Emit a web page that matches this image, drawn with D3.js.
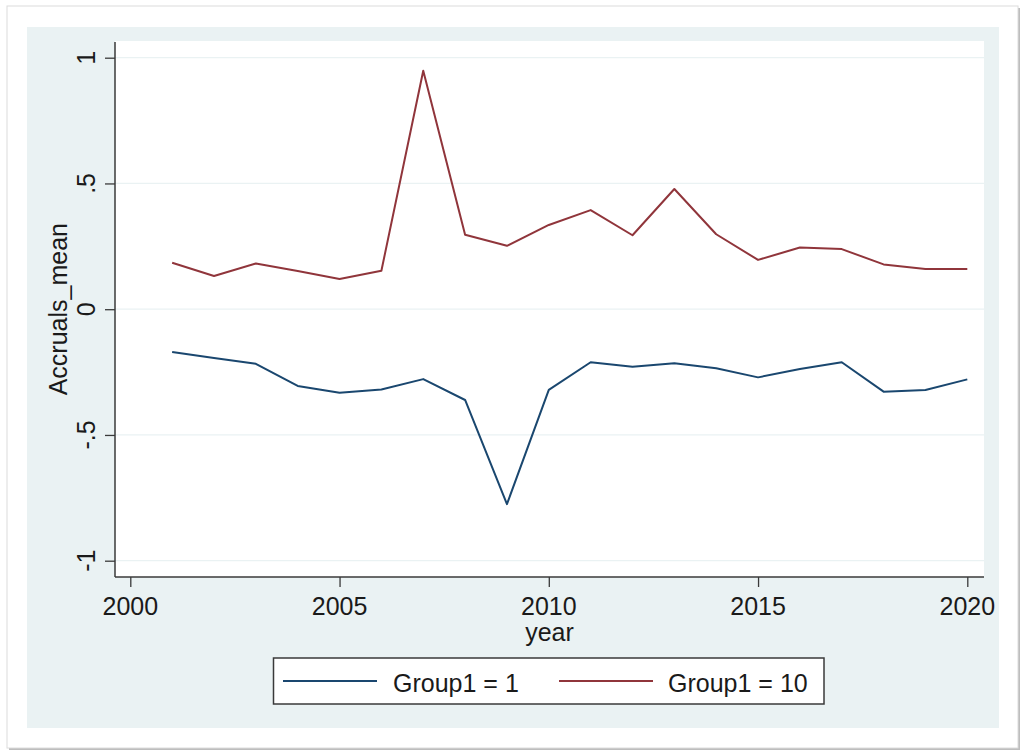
<!DOCTYPE html>
<html>
<head>
<meta charset="utf-8">
<script src="https://cdn.jsdelivr.net/npm/d3@7"></script>
<style>
  html, body { margin: 0; padding: 0; background: #ffffff; }
  svg { display: block; font-family: "Liberation Sans", Arial, sans-serif; }
</style>
</head>
<body>
<svg id="chart" width="1026" height="756"></svg>
<script>
const years = [2001,2002,2003,2004,2005,2006,2007,2008,2009,2010,2011,2012,2013,2014,2015,2016,2017,2018,2019,2020];
const group1 = [-0.170,-0.194,-0.217,-0.305,-0.332,-0.319,-0.278,-0.361,-0.775,-0.321,-0.211,-0.229,-0.215,-0.235,-0.271,-0.238,-0.211,-0.328,-0.321,-0.279];
const group10 = [0.185,0.132,0.182,0.152,0.120,0.153,0.948,0.296,0.252,0.335,0.394,0.294,0.478,0.298,0.196,0.245,0.239,0.178,0.160,0.160];
const xTicks = [2000,2005,2010,2015,2020];
const yTicks = [-1,-0.5,0,0.5,1];
const yTickLabels = ["-1","-.5","0",".5","1"];
const seriesNames = ["Group1 = 1","Group1 = 10"];
const seriesColors = ["#1a476f","#90353b"];
const xTitle = "year";
const yTitle = "Accruals_mean";

(function () {
const svg = d3.select("#chart");

// card with shadow
svg.append("rect").attr("x", 9).attr("y", 8).attr("width", 1011).attr("height", 742)
  .attr("fill", "#bdbdbd");
svg.append("rect").attr("x", 7).attr("y", 6).attr("width", 1011).attr("height", 742)
  .attr("fill", "#ffffff").attr("stroke", "#dcdcdc").attr("stroke-width", 1);

// Stata panel
svg.append("rect").attr("x", 27).attr("y", 27).attr("width", 972).attr("height", 701)
  .attr("fill", "#eaf2f3");

// plot region
const pL = 115, pR = 984, pT = 41, pB = 577;
svg.append("rect").attr("x", pL).attr("y", pT).attr("width", pR - pL).attr("height", pB - pT)
  .attr("fill", "#ffffff");

const x = d3.scaleLinear().domain([2000, 2020]).range([130.3, 967.3]);
const y = d3.scaleLinear().domain([-1, 1]).range([560.7, 57.7]);

// gridlines
svg.append("g").selectAll("line").data(yTicks).join("line")
  .attr("x1", pL).attr("x2", pR)
  .attr("y1", d => y(d)).attr("y2", d => y(d))
  .attr("stroke", "#eaf2f3").attr("stroke-width", 1.2);

// y axis
const yAxis = svg.append("g").attr("transform", `translate(${pL},0)`)
  .call(d3.axisLeft(y).tickValues(yTicks).tickSize(10).tickFormat(""));
yAxis.select(".domain").remove();
yAxis.selectAll(".tick line").attr("stroke", "#3a3a3a").attr("stroke-width", 1.3);
svg.append("line").attr("x1", pL).attr("x2", pL).attr("y1", 42).attr("y2", pB)
  .attr("stroke", "#3a3a3a").attr("stroke-width", 1.5);

svg.append("g").selectAll("text").data(yTicks).join("text")
  .attr("transform", d => `translate(95,${y(d)}) rotate(-90)`)
  .attr("text-anchor", "middle")
  .attr("font-size", 25).attr("fill", "#1a1a1a")
  .text((d, i) => yTickLabels[i]);

// x axis
const xAxis = svg.append("g").attr("transform", `translate(0,${pB})`)
  .call(d3.axisBottom(x).tickValues(xTicks).tickSize(10).tickFormat(""));
xAxis.select(".domain").remove();
xAxis.selectAll(".tick line").attr("stroke", "#3a3a3a").attr("stroke-width", 1.3);
svg.append("line").attr("x1", pL).attr("x2", pR).attr("y1", pB).attr("y2", pB)
  .attr("stroke", "#3a3a3a").attr("stroke-width", 1.5);

svg.append("g").selectAll("text").data(xTicks).join("text")
  .attr("x", d => x(d)).attr("y", 615)
  .attr("text-anchor", "middle")
  .attr("font-size", 25).attr("fill", "#1a1a1a")
  .text(d => d);

// titles
svg.append("text").attr("x", (pL + pR) / 2).attr("y", 641)
  .attr("text-anchor", "middle").attr("font-size", 25).attr("fill", "#1a1a1a").text(xTitle);
svg.append("text").attr("transform", `translate(67,${y(0)}) rotate(-90)`)
  .attr("text-anchor", "middle").attr("font-size", 25).attr("fill", "#1a1a1a").text(yTitle);

// lines
const line = d3.line().x(d => x(d[0])).y(d => y(d[1]));
[group1, group10].forEach((vals, i) => {
  svg.append("path")
    .datum(years.map((yr, j) => [yr, vals[j]]))
    .attr("d", line)
    .attr("fill", "none")
    .attr("stroke", seriesColors[i])
    .attr("stroke-width", 2)
    .attr("stroke-linejoin", "round");
});

// legend
svg.append("rect").attr("x", 273.5).attr("y", 658).attr("width", 550.5).attr("height", 46)
  .attr("fill", "#ffffff").attr("stroke", "#3a3a3a").attr("stroke-width", 1.5);
const legendItems = [
  { x1: 283, x2: 377, tx: 393 },
  { x1: 559, x2: 653, tx: 668 }
];
legendItems.forEach((it, i) => {
  svg.append("line").attr("x1", it.x1).attr("x2", it.x2).attr("y1", 681).attr("y2", 681)
    .attr("stroke", seriesColors[i]).attr("stroke-width", 2);
  svg.append("text").attr("x", it.tx).attr("y", 692)
    .attr("font-size", 25).attr("fill", "#1a1a1a").text(seriesNames[i]);
});
})();
</script>
</body>
</html>
